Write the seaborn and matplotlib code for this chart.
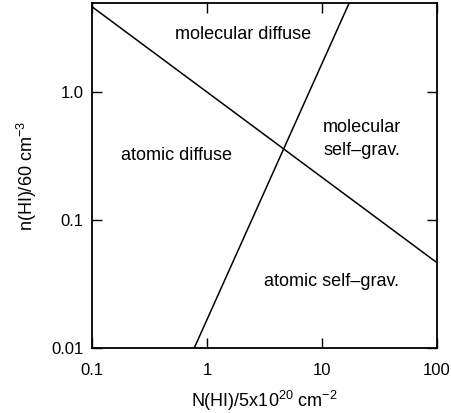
import matplotlib
matplotlib.use("Agg")
import matplotlib.pyplot as plt
import seaborn as sns
import pandas as pd
from matplotlib.ticker import FixedLocator, FixedFormatter, NullLocator

# Data
line1_N = [0.1, 100.0]
line1_n = [4.64, 0.0464]
line2_N = [0.775, 17.3]
line2_n = [0.01, 5.0]

x_ticks = [0.1, 1, 10, 100]
x_tick_labels = ["0.1", "1", "10", "100"]
y_ticks = [0.01, 0.1, 1.0]
y_tick_labels = ["0.01", "0.1", "1.0"]

region_labels = ["molecular diffuse", "atomic diffuse", "molecular\nself\u2013grav.", "atomic self\u2013grav."]
region_N = [2.06, 0.548, 22.3, 12.0]
region_n = [2.79, 0.322, 0.43, 0.0328]

sns.set_theme(style="ticks")
plt.rcParams["font.family"] = ["Liberation Sans", "DejaVu Sans"]
plt.rcParams["mathtext.fontset"] = "custom"
plt.rcParams["mathtext.rm"] = "Liberation Sans"
plt.rcParams["mathtext.it"] = "Liberation Sans:italic"
plt.rcParams["mathtext.bf"] = "Liberation Sans:bold"

fig = plt.figure(figsize=(4.52, 4.13), dpi=100)
ax = fig.add_axes([0.2035, 0.1574, 0.7633, 0.8353])

df1 = pd.DataFrame({"N": line1_N, "n": line1_n})
df2 = pd.DataFrame({"N": line2_N, "n": line2_n})
sns.lineplot(data=df1, x="N", y="n", ax=ax, color="black", linewidth=1.1)
sns.lineplot(data=df2, x="N", y="n", ax=ax, color="black", linewidth=1.1)

ax.set_xscale("log")
ax.set_yscale("log")
ax.set_xlim(0.1, 100)
ax.set_ylim(0.01, 4.96)

ax.xaxis.set_major_locator(FixedLocator(x_ticks))
ax.xaxis.set_major_formatter(FixedFormatter(x_tick_labels))
ax.xaxis.set_minor_locator(NullLocator())
ax.yaxis.set_major_locator(FixedLocator(y_ticks))
ax.yaxis.set_major_formatter(FixedFormatter(y_tick_labels))
ax.yaxis.set_minor_locator(NullLocator())

ax.tick_params(which="both", direction="in", top=True, right=True,
               length=7, width=1.0, labelsize=12, color="black", labelcolor="black")
ax.tick_params(axis="x", pad=10.5)
ax.tick_params(axis="y", pad=6)
for s in ax.spines.values():
    s.set_visible(True)
    s.set_linewidth(1.3)
    s.set_color("black")

for lab, xn, yn in zip(region_labels, region_N, region_n):
    ax.text(xn, yn, lab, ha="center", va="center", fontsize=13, color="black",
            linespacing=1.5)

ax.set_xlabel(r"N(HI)/5x10$^{20}$ cm$^{-2}$", fontsize=13, color="black", labelpad=8)
ax.set_ylabel(r"n(HI)/60 cm$^{-3}$", fontsize=13, color="black", labelpad=9)

fig.savefig("out.png", dpi=100)
